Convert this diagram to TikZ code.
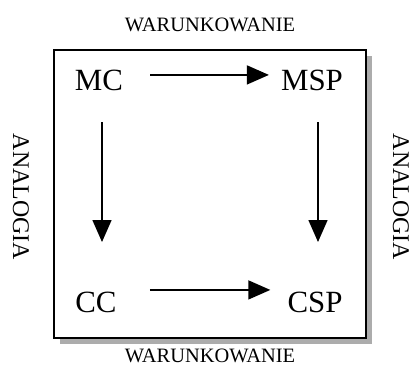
\documentclass[tikz,border=0pt]{standalone}
\usepackage{fontspec}
\setmainfont{Liberation Serif}
\usepackage{tikz}
\usetikzlibrary{arrows.meta, shadows}

\begin{document}
\begin{tikzpicture}[
    x=1bp, y=-1bp,
    term/.style={font=\fontsize{31}{31}\selectfont, inner sep=0pt, anchor=base},
    sidelabel/.style={font=\fontsize{20.5}{20.5}\selectfont, inner sep=0pt},
    analabel/.style={font=\fontsize{24}{24}\selectfont, inner sep=0pt, rotate=-90},
    frame/.style={draw=black, line width=1.6bp, fill=white, minimum width=312bp, minimum height=288bp,
        drop shadow={shadow xshift=6bp, shadow yshift=-6bp, fill=gray!65, opacity=1}},
    arrow/.style={line width=1.5bp, -{Triangle[length=22bp, width=19bp]}}
]
    \useasboundingbox (0,0) rectangle (412,367);

    % --- Frame ---
    \node[frame] (box) at (210,194) {};

    % --- Nodes ---
    \node[term] (mc) at (99,90) {MC};
    \node[term] (msp) at (312,90) {MSP};
    \node[term] (cc) at (96,312) {CC};
    \node[term] (csp) at (315,312) {CSP};

    % Labels round the frame
    \node[sidelabel] (topcond) at (210,25) {WARUNKOWANIE};
    \node[sidelabel] (botcond) at (210,356) {WARUNKOWANIE};
    \node[analabel] (leftanal) at (21,197) {ANALOGIA};
    \node[analabel] (rightanal) at (401,197) {ANALOGIA};

    % --- Edges ---
    \draw[arrow, shorten <=27bp, shorten >=12bp] ([yshift=5bp]mc.east) -- ([yshift=5bp]msp.west);
    \draw[arrow, shorten <=33bp, shorten >=17bp] ([yshift=12bp]cc.east) -- ([yshift=12bp]csp.west);
    \draw[arrow, shorten <=32bp, shorten >=70bp] ([xshift=3bp]mc.base) -- ([xshift=3bp]mc.base |- cc.base);
    \draw[arrow, shorten <=32bp, shorten >=70bp] ([xshift=6bp]msp.base) -- ([xshift=6bp]msp.base |- csp.base);

\end{tikzpicture}
\end{document}
